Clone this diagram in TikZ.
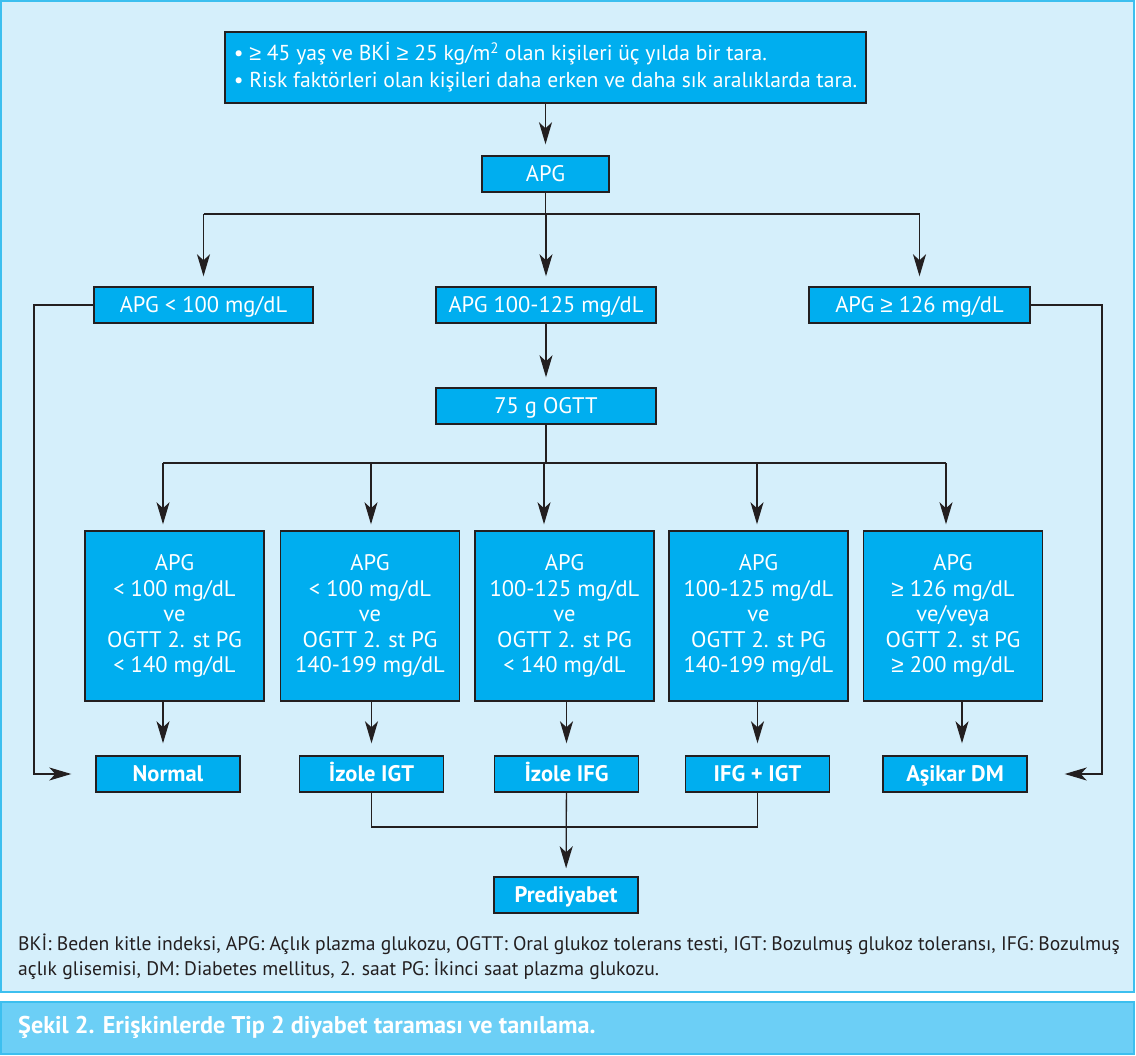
\documentclass[tikz,border=0pt]{standalone}
\usepackage{fontspec}
\setmainfont{PT Sans}
\newfontfamily\symfont{Liberation Sans}
\usetikzlibrary{arrows.meta,positioning}
\newcommand{\geqs}{{\symfont ≥}}
\definecolor{panelbg}{HTML}{D5EFFB}
\definecolor{panelrule}{HTML}{3CBFEF}
\definecolor{capbg}{HTML}{6CCFF6}
\definecolor{boxcol}{HTML}{00AEEF}
\definecolor{linecol}{HTML}{231F20}
\tikzset{
	basic/.style = {draw=linecol, line width=1.4pt, fill=boxcol, text=white, rectangle, inner sep=0pt, align=center, font=\fontsize{22.5}{25.5}\selectfont},
	flat/.style = {basic, minimum height=36pt, text height=17.75pt, text depth=2pt},
	tall/.style = {basic, minimum width=179pt, minimum height=170pt},
	result/.style = {flat, minimum width=144pt, font=\fontsize{22.5}{25.5}\selectfont\bfseries},
	arr/.style = {-{Stealth[length=22pt,width=13pt,inset=6pt]}, line width=1.3pt, draw=linecol},
	link/.style = {line width=1.3pt, draw=linecol}
}

\begin{document}
\begin{tikzpicture}[x=1pt, y=-1pt]
	\useasboundingbox (0,0) rectangle (1136,1056);
	% frame and caption bar
	\draw[panelrule, fill=panelbg, line width=2pt] (1,1) rectangle (1134,992);
	\draw[panelrule, fill=capbg, line width=2pt] (1,1002) rectangle (1134,1054);

	% boxes
	\node[basic, minimum width=641pt, minimum height=71pt, align=left, font=\fontsize{21.6}{27}\selectfont] (screen) at (545.5,67.5)
		{• \geqs{} 45 yaş ve BKİ \geqs{} 25 kg/m\textsuperscript{2} olan kişileri üç yılda bir tara.\\
		 • Risk faktörleri olan kişileri daha erken ve daha sık aralıklarda tara.};
	\node[flat, minimum width=127pt] (apg) at (545.5,174) {APG};
	\node[flat, minimum width=219pt] (low) at (203.5,305) {APG < 100 mg/dL};
	\node[flat, minimum width=220pt] (mid) at (546,305) {APG 100-125 mg/dL};
	\node[flat, minimum width=221pt] (high) at (919.5,305) {APG \geqs{} 126 mg/dL};
	\node[flat, minimum width=220pt] (ogtt) at (546,406) {75 g OGTT};

	\node[tall] (c1) at (174.5,616) {APG\\< 100 mg/dL\\ve\\OGTT 2. st PG\\< 140 mg/dL};
	\node[tall] (c2) at (370,616) {APG\\< 100 mg/dL\\ve\\OGTT 2. st PG\\140-199 mg/dL};
	\node[tall] (c3) at (564.5,616) {APG\\100-125 mg/dL\\ve\\OGTT 2. st PG\\< 140 mg/dL};
	\node[tall] (c4) at (758.5,616) {APG\\100-125 mg/dL\\ve\\OGTT 2. st PG\\140-199 mg/dL};
	\node[tall] (c5) at (953,616) {APG\\\geqs{} 126 mg/dL\\ve/veya\\OGTT 2. st PG\\\geqs{} 200 mg/dL};

	\node[result] (normal) at (168,774) {Normal};
	\node[result] (igt) at (371.5,774) {İzole IGT};
	\node[result] (ifg) at (566.5,774) {İzole IFG};
	\node[result] (both) at (757.5,774) {IFG + IGT};
	\node[result] (dm) at (955,774) {Aşikar DM};
	\node[result] (pre) at (566,895) {Prediyabet};

	% first split
	\draw[arr, shorten >=11pt] (screen) -- (apg);
	\coordinate (fork1) at (545.5,214);
	\draw[link] (apg) -- (fork1);
	\draw[link] (low |- fork1) -- (high |- fork1);
	\foreach \n in {low, mid, high}
		\draw[arr, shorten >=10pt] (\n |- fork1) -- (\n);

	% side routes
	\coordinate (leftx) at (34,0);
	\coordinate (rightx) at (1102,0);
	\draw[arr, shorten >=24pt] (low.west) -- (low.west -| leftx) -- (normal.west -| leftx) -- (normal.west);
	\draw[arr, shorten >=37pt] (high.east) -- (high.east -| rightx) -- (dm.east -| rightx) -- (dm.east);

	% OGTT split
	\draw[arr, shorten >=10pt] (mid) -- (ogtt);
	\coordinate (fork2) at (546,463);
	\coordinate (x1) at (163,0);
	\coordinate (x2) at (371,0);
	\coordinate (x3) at (544,0);
	\coordinate (x4) at (757,0);
	\coordinate (x5) at (946,0);
	\draw[link] (ogtt) -- (fork2);
	\draw[link] (fork2 -| x1) -- (fork2 -| x5);
	\foreach \i in {1,...,5}
		\draw[arr, shorten >=6pt] (fork2 -| x\i) -- (c\i.north -| x\i);

	% down to results
	\coordinate (y1) at (163,0);
	\draw[arr, shorten >=12pt] (c1.south -| y1) -- (normal.north -| y1);
	\draw[arr, shorten >=12pt] (c2.south -| igt) -- (igt);
	\draw[arr, shorten >=12pt] (c3.south -| ifg) -- (ifg);
	\draw[arr, shorten >=12pt] (c4.south -| both) -- (both);
	\coordinate (y5) at (962,0);
	\draw[arr, shorten >=12pt] (c5.south -| y5) -- (dm.north -| y5);

	% prediabetes
	\coordinate (join) at (566,827);
	\draw[link] (igt) |- (join) -| (both);
	\draw[arr, shorten >=8pt] (ifg) -- (pre);

	% legend and caption
	\node[anchor=west, align=left, inner sep=0pt, font=\fontsize{19.6}{25}\selectfont, text=linecol] (legend) at (18,956.5)
		{BKİ: Beden kitle indeksi, APG: Açlık plazma glukozu, OGTT: Oral glukoz tolerans testi, IGT: Bozulmuş glukoz toleransı, IFG: Bozulmuş\\
		 açlık glisemisi, DM: Diabetes mellitus, 2. saat PG: İkinci saat plazma glukozu.};
	\node[anchor=west, inner sep=0pt, font=\fontsize{24.2}{26}\selectfont\bfseries, text=white] (caption) at (18,1027)
		{Şekil 2. Erişkinlerde Tip 2 diyabet taraması ve tanılama.};
\end{tikzpicture}
\end{document}
